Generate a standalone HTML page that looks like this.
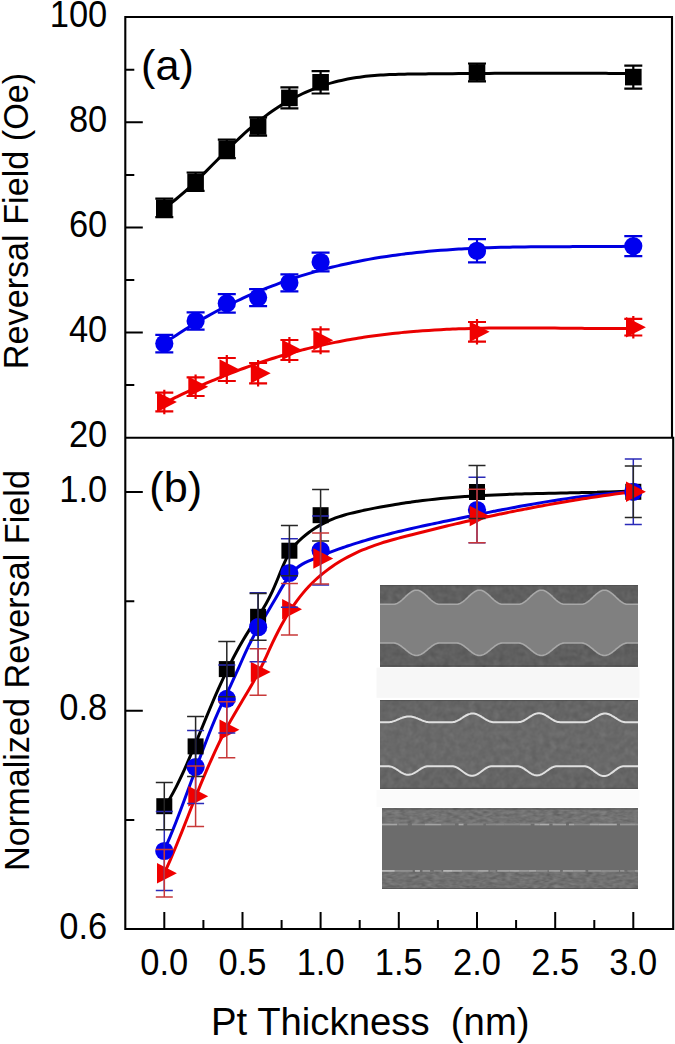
<!DOCTYPE html>
<html><head><meta charset="utf-8"><style>
html,body{margin:0;padding:0;background:#fff;}
svg{display:block;}
text{font-family:"Liberation Sans", sans-serif;font-size:34.5px;fill:#000;}
</style></head><body>
<svg width="675" height="1044" viewBox="0 0 675 1044">
<defs><filter id="n1" x="0" y="0" width="1" height="1" color-interpolation-filters="sRGB"><feTurbulence type="fractalNoise" baseFrequency="0.16" numOctaves="2" seed="3"/><feColorMatrix type="matrix" values="0.0545 0.0545 0.0545 0 0.2908  0.0545 0.0545 0.0545 0 0.2908  0.0545 0.0545 0.0545 0 0.2908  0 0 0 0 1"/></filter><filter id="n2" x="0" y="0" width="1" height="1" color-interpolation-filters="sRGB"><feTurbulence type="fractalNoise" baseFrequency="0.16" numOctaves="2" seed="7"/><feColorMatrix type="matrix" values="0.0545 0.0545 0.0545 0 0.3144  0.0545 0.0545 0.0545 0 0.3144  0.0545 0.0545 0.0545 0 0.3144  0 0 0 0 1"/></filter><filter id="n3" x="0" y="0" width="1" height="1" color-interpolation-filters="sRGB"><feTurbulence type="fractalNoise" baseFrequency="0.15 0.35" numOctaves="2" seed="11"/><feColorMatrix type="matrix" values="0.0980 0.0980 0.0980 0 0.3000  0.0980 0.0980 0.0980 0 0.3000  0.0980 0.0980 0.0980 0 0.3000  0 0 0 0 1"/></filter><filter id="n4" x="0" y="0" width="1" height="1" color-interpolation-filters="sRGB"><feTurbulence type="fractalNoise" baseFrequency="0.15 0.35" numOctaves="2" seed="13"/><feColorMatrix type="matrix" values="0.0980 0.0980 0.0980 0 0.2922  0.0980 0.0980 0.0980 0 0.2922  0.0980 0.0980 0.0980 0 0.2922  0 0 0 0 1"/></filter></defs>
<rect x="376.5" y="667.6" width="263" height="30.2" fill="#f7f7f7"/>
<rect x="376.5" y="790.2" width="263" height="16.8" fill="#fbfbfb"/>
<rect x="380" y="585" width="258" height="81.2" fill="#5e5e5e"/>
<rect x="380" y="585" width="258" height="81.2" filter="url(#n1)"/>
<path d="M380,604.2 L381,604.2 L382,604.2 L383,604.2 L384,604.2 L385,604.2 L386,604.2 L387,604.2 L388,604.2 L389,604.2 L390,604.2 L391,604.2 L392,604.2 L393,604.2 L394,604.2 L395,604.1 L396,603.8 L397,603.4 L398,602.9 L399,602.3 L400,601.6 L401,600.8 L402,600 L403,599.1 L404,598.2 L405,597.2 L406,596.2 L407,595.3 L408,594.4 L409,593.6 L410,592.8 L411,592.1 L412,591.5 L413,591 L414,590.6 L415,590.3 L416,590.2 L417,590.2 L418,590.3 L419,590.6 L420,591 L421,591.5 L422,592.1 L423,592.8 L424,593.6 L425,594.4 L426,595.3 L427,596.2 L428,597.2 L429,598.2 L430,599.1 L431,600 L432,600.8 L433,601.6 L434,602.3 L435,602.9 L436,603.4 L437,603.8 L438,604.1 L439,604.2 L440,604.2 L441,604.2 L442,604.2 L443,604.2 L444,604.2 L445,604.2 L446,604.2 L447,604.2 L448,604.2 L449,604.2 L450,604.2 L451,604.2 L452,604.2 L453,604.2 L454,604.2 L455,604.2 L456,604.2 L457,604.2 L458,604.1 L459,603.8 L460,603.4 L461,602.9 L462,602.3 L463,601.6 L464,600.8 L465,600 L466,599.1 L467,598.2 L468,597.2 L469,596.2 L470,595.3 L471,594.4 L472,593.6 L473,592.8 L474,592.1 L475,591.5 L476,591 L477,590.6 L478,590.3 L479,590.2 L480,590.2 L481,590.3 L482,590.6 L483,591 L484,591.5 L485,592.1 L486,592.8 L487,593.6 L488,594.4 L489,595.3 L490,596.2 L491,597.2 L492,598.2 L493,599.1 L494,600 L495,600.8 L496,601.6 L497,602.3 L498,602.9 L499,603.4 L500,603.8 L501,604.1 L502,604.2 L503,604.2 L504,604.2 L505,604.2 L506,604.2 L507,604.2 L508,604.2 L509,604.2 L510,604.2 L511,604.2 L512,604.2 L513,604.2 L514,604.2 L515,604.2 L516,604.2 L517,604.2 L518,604.2 L519,604.2 L520,604.1 L521,603.8 L522,603.4 L523,602.9 L524,602.3 L525,601.6 L526,600.8 L527,600 L528,599.1 L529,598.2 L530,597.2 L531,596.2 L532,595.3 L533,594.4 L534,593.6 L535,592.8 L536,592.1 L537,591.5 L538,591 L539,590.6 L540,590.3 L541,590.2 L542,590.2 L543,590.3 L544,590.6 L545,591 L546,591.5 L547,592.1 L548,592.8 L549,593.6 L550,594.4 L551,595.3 L552,596.2 L553,597.2 L554,598.2 L555,599.1 L556,600 L557,600.8 L558,601.6 L559,602.3 L560,602.9 L561,603.4 L562,603.8 L563,604.1 L564,604.2 L565,604.2 L566,604.2 L567,604.2 L568,604.2 L569,604.2 L570,604.2 L571,604.2 L572,604.2 L573,604.2 L574,604.2 L575,604.2 L576,604.2 L577,604.2 L578,604.2 L579,604.2 L580,604.2 L581,604.2 L582,604.2 L583,604.1 L584,603.8 L585,603.4 L586,602.9 L587,602.3 L588,601.6 L589,600.8 L590,600 L591,599.1 L592,598.2 L593,597.2 L594,596.2 L595,595.3 L596,594.4 L597,593.6 L598,592.8 L599,592.1 L600,591.5 L601,591 L602,590.6 L603,590.3 L604,590.2 L605,590.2 L606,590.3 L607,590.6 L608,591 L609,591.5 L610,592.1 L611,592.8 L612,593.6 L613,594.4 L614,595.3 L615,596.2 L616,597.2 L617,598.2 L618,599.1 L619,600 L620,600.8 L621,601.6 L622,602.3 L623,602.9 L624,603.4 L625,603.8 L626,604.1 L627,604.2 L628,604.2 L629,604.2 L630,604.2 L631,604.2 L632,604.2 L633,604.2 L634,604.2 L635,604.2 L636,604.2 L637,604.2 L638,604.2 L638,643 L637,643 L636,643 L635,643 L634,643 L633,643 L632,643 L631,643 L630,643 L629,643 L628,643 L627,643 L626,643.1 L625,643.4 L624,643.7 L623,644.1 L622,644.7 L621,645.3 L620,646 L619,646.8 L618,647.6 L617,648.4 L616,649.2 L615,650.1 L614,650.9 L613,651.7 L612,652.5 L611,653.2 L610,653.8 L609,654.4 L608,654.8 L607,655.1 L606,655.4 L605,655.5 L604,655.5 L603,655.4 L602,655.1 L601,654.8 L600,654.4 L599,653.8 L598,653.2 L597,652.5 L596,651.7 L595,650.9 L594,650.1 L593,649.2 L592,648.4 L591,647.6 L590,646.8 L589,646 L588,645.3 L587,644.7 L586,644.1 L585,643.7 L584,643.4 L583,643.1 L582,643 L581,643 L580,643 L579,643 L578,643 L577,643 L576,643 L575,643 L574,643 L573,643 L572,643 L571,643 L570,643 L569,643 L568,643 L567,643 L566,643 L565,643 L564,643 L563,643.1 L562,643.4 L561,643.7 L560,644.1 L559,644.7 L558,645.3 L557,646 L556,646.8 L555,647.6 L554,648.4 L553,649.2 L552,650.1 L551,650.9 L550,651.7 L549,652.5 L548,653.2 L547,653.8 L546,654.4 L545,654.8 L544,655.1 L543,655.4 L542,655.5 L541,655.5 L540,655.4 L539,655.1 L538,654.8 L537,654.4 L536,653.8 L535,653.2 L534,652.5 L533,651.7 L532,650.9 L531,650.1 L530,649.2 L529,648.4 L528,647.6 L527,646.8 L526,646 L525,645.3 L524,644.7 L523,644.1 L522,643.7 L521,643.4 L520,643.1 L519,643 L518,643 L517,643 L516,643 L515,643 L514,643 L513,643 L512,643 L511,643 L510,643 L509,643 L508,643 L507,643 L506,643 L505,643 L504,643 L503,643 L502,643 L501,643.1 L500,643.4 L499,643.7 L498,644.1 L497,644.7 L496,645.3 L495,646 L494,646.8 L493,647.6 L492,648.4 L491,649.2 L490,650.1 L489,650.9 L488,651.7 L487,652.5 L486,653.2 L485,653.8 L484,654.4 L483,654.8 L482,655.1 L481,655.4 L480,655.5 L479,655.5 L478,655.4 L477,655.1 L476,654.8 L475,654.4 L474,653.8 L473,653.2 L472,652.5 L471,651.7 L470,650.9 L469,650.1 L468,649.2 L467,648.4 L466,647.6 L465,646.8 L464,646 L463,645.3 L462,644.7 L461,644.1 L460,643.7 L459,643.4 L458,643.1 L457,643 L456,643 L455,643 L454,643 L453,643 L452,643 L451,643 L450,643 L449,643 L448,643 L447,643 L446,643 L445,643 L444,643 L443,643 L442,643 L441,643 L440,643 L439,643 L438,643.1 L437,643.4 L436,643.7 L435,644.1 L434,644.7 L433,645.3 L432,646 L431,646.8 L430,647.6 L429,648.4 L428,649.2 L427,650.1 L426,650.9 L425,651.7 L424,652.5 L423,653.2 L422,653.8 L421,654.4 L420,654.8 L419,655.1 L418,655.4 L417,655.5 L416,655.5 L415,655.4 L414,655.1 L413,654.8 L412,654.4 L411,653.8 L410,653.2 L409,652.5 L408,651.7 L407,650.9 L406,650.1 L405,649.2 L404,648.4 L403,647.6 L402,646.8 L401,646 L400,645.3 L399,644.7 L398,644.1 L397,643.7 L396,643.4 L395,643.1 L394,643 L393,643 L392,643 L391,643 L390,643 L389,643 L388,643 L387,643 L386,643 L385,643 L384,643 L383,643 L382,643 L381,643 L380,643 Z" fill="#808080"/>
<path d="M380,604.2 L381,604.2 L382,604.2 L383,604.2 L384,604.2 L385,604.2 L386,604.2 L387,604.2 L388,604.2 L389,604.2 L390,604.2 L391,604.2 L392,604.2 L393,604.2 L394,604.2 L395,604.1 L396,603.8 L397,603.4 L398,602.9 L399,602.3 L400,601.6 L401,600.8 L402,600 L403,599.1 L404,598.2 L405,597.2 L406,596.2 L407,595.3 L408,594.4 L409,593.6 L410,592.8 L411,592.1 L412,591.5 L413,591 L414,590.6 L415,590.3 L416,590.2 L417,590.2 L418,590.3 L419,590.6 L420,591 L421,591.5 L422,592.1 L423,592.8 L424,593.6 L425,594.4 L426,595.3 L427,596.2 L428,597.2 L429,598.2 L430,599.1 L431,600 L432,600.8 L433,601.6 L434,602.3 L435,602.9 L436,603.4 L437,603.8 L438,604.1 L439,604.2 L440,604.2 L441,604.2 L442,604.2 L443,604.2 L444,604.2 L445,604.2 L446,604.2 L447,604.2 L448,604.2 L449,604.2 L450,604.2 L451,604.2 L452,604.2 L453,604.2 L454,604.2 L455,604.2 L456,604.2 L457,604.2 L458,604.1 L459,603.8 L460,603.4 L461,602.9 L462,602.3 L463,601.6 L464,600.8 L465,600 L466,599.1 L467,598.2 L468,597.2 L469,596.2 L470,595.3 L471,594.4 L472,593.6 L473,592.8 L474,592.1 L475,591.5 L476,591 L477,590.6 L478,590.3 L479,590.2 L480,590.2 L481,590.3 L482,590.6 L483,591 L484,591.5 L485,592.1 L486,592.8 L487,593.6 L488,594.4 L489,595.3 L490,596.2 L491,597.2 L492,598.2 L493,599.1 L494,600 L495,600.8 L496,601.6 L497,602.3 L498,602.9 L499,603.4 L500,603.8 L501,604.1 L502,604.2 L503,604.2 L504,604.2 L505,604.2 L506,604.2 L507,604.2 L508,604.2 L509,604.2 L510,604.2 L511,604.2 L512,604.2 L513,604.2 L514,604.2 L515,604.2 L516,604.2 L517,604.2 L518,604.2 L519,604.2 L520,604.1 L521,603.8 L522,603.4 L523,602.9 L524,602.3 L525,601.6 L526,600.8 L527,600 L528,599.1 L529,598.2 L530,597.2 L531,596.2 L532,595.3 L533,594.4 L534,593.6 L535,592.8 L536,592.1 L537,591.5 L538,591 L539,590.6 L540,590.3 L541,590.2 L542,590.2 L543,590.3 L544,590.6 L545,591 L546,591.5 L547,592.1 L548,592.8 L549,593.6 L550,594.4 L551,595.3 L552,596.2 L553,597.2 L554,598.2 L555,599.1 L556,600 L557,600.8 L558,601.6 L559,602.3 L560,602.9 L561,603.4 L562,603.8 L563,604.1 L564,604.2 L565,604.2 L566,604.2 L567,604.2 L568,604.2 L569,604.2 L570,604.2 L571,604.2 L572,604.2 L573,604.2 L574,604.2 L575,604.2 L576,604.2 L577,604.2 L578,604.2 L579,604.2 L580,604.2 L581,604.2 L582,604.2 L583,604.1 L584,603.8 L585,603.4 L586,602.9 L587,602.3 L588,601.6 L589,600.8 L590,600 L591,599.1 L592,598.2 L593,597.2 L594,596.2 L595,595.3 L596,594.4 L597,593.6 L598,592.8 L599,592.1 L600,591.5 L601,591 L602,590.6 L603,590.3 L604,590.2 L605,590.2 L606,590.3 L607,590.6 L608,591 L609,591.5 L610,592.1 L611,592.8 L612,593.6 L613,594.4 L614,595.3 L615,596.2 L616,597.2 L617,598.2 L618,599.1 L619,600 L620,600.8 L621,601.6 L622,602.3 L623,602.9 L624,603.4 L625,603.8 L626,604.1 L627,604.2 L628,604.2 L629,604.2 L630,604.2 L631,604.2 L632,604.2 L633,604.2 L634,604.2 L635,604.2 L636,604.2 L637,604.2 L638,604.2" stroke="#a8a8a8" stroke-width="1.6" fill="none"/>
<path d="M380,643 L381,643 L382,643 L383,643 L384,643 L385,643 L386,643 L387,643 L388,643 L389,643 L390,643 L391,643 L392,643 L393,643 L394,643 L395,643.1 L396,643.4 L397,643.7 L398,644.1 L399,644.7 L400,645.3 L401,646 L402,646.8 L403,647.6 L404,648.4 L405,649.2 L406,650.1 L407,650.9 L408,651.7 L409,652.5 L410,653.2 L411,653.8 L412,654.4 L413,654.8 L414,655.1 L415,655.4 L416,655.5 L417,655.5 L418,655.4 L419,655.1 L420,654.8 L421,654.4 L422,653.8 L423,653.2 L424,652.5 L425,651.7 L426,650.9 L427,650.1 L428,649.2 L429,648.4 L430,647.6 L431,646.8 L432,646 L433,645.3 L434,644.7 L435,644.1 L436,643.7 L437,643.4 L438,643.1 L439,643 L440,643 L441,643 L442,643 L443,643 L444,643 L445,643 L446,643 L447,643 L448,643 L449,643 L450,643 L451,643 L452,643 L453,643 L454,643 L455,643 L456,643 L457,643 L458,643.1 L459,643.4 L460,643.7 L461,644.1 L462,644.7 L463,645.3 L464,646 L465,646.8 L466,647.6 L467,648.4 L468,649.2 L469,650.1 L470,650.9 L471,651.7 L472,652.5 L473,653.2 L474,653.8 L475,654.4 L476,654.8 L477,655.1 L478,655.4 L479,655.5 L480,655.5 L481,655.4 L482,655.1 L483,654.8 L484,654.4 L485,653.8 L486,653.2 L487,652.5 L488,651.7 L489,650.9 L490,650.1 L491,649.2 L492,648.4 L493,647.6 L494,646.8 L495,646 L496,645.3 L497,644.7 L498,644.1 L499,643.7 L500,643.4 L501,643.1 L502,643 L503,643 L504,643 L505,643 L506,643 L507,643 L508,643 L509,643 L510,643 L511,643 L512,643 L513,643 L514,643 L515,643 L516,643 L517,643 L518,643 L519,643 L520,643.1 L521,643.4 L522,643.7 L523,644.1 L524,644.7 L525,645.3 L526,646 L527,646.8 L528,647.6 L529,648.4 L530,649.2 L531,650.1 L532,650.9 L533,651.7 L534,652.5 L535,653.2 L536,653.8 L537,654.4 L538,654.8 L539,655.1 L540,655.4 L541,655.5 L542,655.5 L543,655.4 L544,655.1 L545,654.8 L546,654.4 L547,653.8 L548,653.2 L549,652.5 L550,651.7 L551,650.9 L552,650.1 L553,649.2 L554,648.4 L555,647.6 L556,646.8 L557,646 L558,645.3 L559,644.7 L560,644.1 L561,643.7 L562,643.4 L563,643.1 L564,643 L565,643 L566,643 L567,643 L568,643 L569,643 L570,643 L571,643 L572,643 L573,643 L574,643 L575,643 L576,643 L577,643 L578,643 L579,643 L580,643 L581,643 L582,643 L583,643.1 L584,643.4 L585,643.7 L586,644.1 L587,644.7 L588,645.3 L589,646 L590,646.8 L591,647.6 L592,648.4 L593,649.2 L594,650.1 L595,650.9 L596,651.7 L597,652.5 L598,653.2 L599,653.8 L600,654.4 L601,654.8 L602,655.1 L603,655.4 L604,655.5 L605,655.5 L606,655.4 L607,655.1 L608,654.8 L609,654.4 L610,653.8 L611,653.2 L612,652.5 L613,651.7 L614,650.9 L615,650.1 L616,649.2 L617,648.4 L618,647.6 L619,646.8 L620,646 L621,645.3 L622,644.7 L623,644.1 L624,643.7 L625,643.4 L626,643.1 L627,643 L628,643 L629,643 L630,643 L631,643 L632,643 L633,643 L634,643 L635,643 L636,643 L637,643 L638,643" stroke="#a8a8a8" stroke-width="1.6" fill="none"/>
<rect x="380" y="700" width="258" height="88.8" fill="#646464"/>
<rect x="380" y="700" width="258" height="88.8" filter="url(#n2)"/>
<path d="M380,722.2 L381,722.2 L382,722.2 L383,722.2 L384,722.2 L385,722.2 L386,722.2 L387,722.2 L388,722.2 L389,722.2 L390,722.1 L391,721.9 L392,721.7 L393,721.4 L394,721.1 L395,720.8 L396,720.4 L397,719.9 L398,719.5 L399,719.1 L400,718.7 L401,718.2 L402,717.9 L403,717.5 L404,717.2 L405,716.9 L406,716.7 L407,716.5 L408,716.4 L409,716.4 L410,716.4 L411,716.5 L412,716.7 L413,716.9 L414,717.2 L415,717.5 L416,717.9 L417,718.2 L418,718.7 L419,719.1 L420,719.5 L421,719.9 L422,720.4 L423,720.8 L424,721.1 L425,721.4 L426,721.7 L427,721.9 L428,722.1 L429,722.2 L430,722.2 L431,722.2 L432,722.2 L433,722.2 L434,722.2 L435,722.2 L436,722.2 L437,722.2 L438,722.2 L439,722.2 L440,722.2 L441,722.2 L442,722.2 L443,722.2 L444,722.2 L445,722.2 L446,722.2 L447,722.2 L448,722.2 L449,722.2 L450,722.2 L451,722.2 L452,722.2 L453,722.1 L454,721.9 L455,721.7 L456,721.3 L457,720.9 L458,720.4 L459,719.9 L460,719.3 L461,718.6 L462,718 L463,717.3 L464,716.7 L465,716.1 L466,715.5 L467,715 L468,714.5 L469,714.1 L470,713.9 L471,713.6 L472,713.5 L473,713.5 L474,713.6 L475,713.8 L476,714 L477,714.4 L478,714.8 L479,715.3 L480,715.8 L481,716.4 L482,717.1 L483,717.7 L484,718.4 L485,719 L486,719.6 L487,720.2 L488,720.7 L489,721.2 L490,721.6 L491,721.8 L492,722.1 L493,722.2 L494,722.2 L495,722.2 L496,722.2 L497,722.2 L498,722.2 L499,722.2 L500,722.2 L501,722.2 L502,722.2 L503,722.2 L504,722.2 L505,722.2 L506,722.2 L507,722.2 L508,722.2 L509,722.2 L510,722.2 L511,722.2 L512,722.2 L513,722.2 L514,722.2 L515,722.2 L516,722.2 L517,722.2 L518,722.2 L519,722.1 L520,722 L521,721.8 L522,721.4 L523,721 L524,720.5 L525,720 L526,719.3 L527,718.7 L528,718 L529,717.4 L530,716.7 L531,716.1 L532,715.5 L533,714.9 L534,714.4 L535,714 L536,713.6 L537,713.4 L538,713.3 L539,713.2 L540,713.3 L541,713.4 L542,713.6 L543,714 L544,714.4 L545,714.9 L546,715.5 L547,716.1 L548,716.7 L549,717.4 L550,718 L551,718.7 L552,719.3 L553,720 L554,720.5 L555,721 L556,721.4 L557,721.8 L558,722 L559,722.1 L560,722.2 L561,722.2 L562,722.2 L563,722.2 L564,722.2 L565,722.2 L566,722.2 L567,722.2 L568,722.2 L569,722.2 L570,722.2 L571,722.2 L572,722.2 L573,722.2 L574,722.2 L575,722.2 L576,722.2 L577,722.2 L578,722.2 L579,722.2 L580,722.2 L581,722.2 L582,722.2 L583,722.2 L584,722.2 L585,722.2 L586,722 L587,721.8 L588,721.5 L589,721.1 L590,720.6 L591,720.1 L592,719.5 L593,718.9 L594,718.2 L595,717.6 L596,716.9 L597,716.3 L598,715.8 L599,715.2 L600,714.7 L601,714.3 L602,714 L603,713.8 L604,713.6 L605,713.6 L606,713.6 L607,713.8 L608,714 L609,714.3 L610,714.7 L611,715.2 L612,715.8 L613,716.3 L614,716.9 L615,717.6 L616,718.2 L617,718.9 L618,719.5 L619,720.1 L620,720.6 L621,721.1 L622,721.5 L623,721.8 L624,722 L625,722.2 L626,722.2 L627,722.2 L628,722.2 L629,722.2 L630,722.2 L631,722.2 L632,722.2 L633,722.2 L634,722.2 L635,722.2 L636,722.2 L637,722.2 L638,722.2 L638,766.2 L637,766.2 L636,766.2 L635,766.2 L634,766.2 L633,766.2 L632,766.2 L631,766.2 L630,766.2 L629,766.2 L628,766.2 L627,766.2 L626,766.2 L625,766.2 L624,766.2 L623,766.3 L622,766.4 L621,766.7 L620,767.1 L619,767.6 L618,768.2 L617,768.9 L616,769.6 L615,770.3 L614,771.1 L613,771.9 L612,772.6 L611,773.3 L610,774 L609,774.6 L608,775.1 L607,775.5 L606,775.8 L605,775.9 L604,776 L603,775.9 L602,775.8 L601,775.5 L600,775.1 L599,774.6 L598,774 L597,773.3 L596,772.6 L595,771.9 L594,771.1 L593,770.3 L592,769.6 L591,768.9 L590,768.2 L589,767.6 L588,767.1 L587,766.7 L586,766.4 L585,766.3 L584,766.2 L583,766.2 L582,766.2 L581,766.2 L580,766.2 L579,766.2 L578,766.2 L577,766.2 L576,766.2 L575,766.2 L574,766.2 L573,766.2 L572,766.2 L571,766.2 L570,766.2 L569,766.2 L568,766.2 L567,766.2 L566,766.2 L565,766.2 L564,766.2 L563,766.2 L562,766.2 L561,766.2 L560,766.2 L559,766.2 L558,766.2 L557,766.2 L556,766.3 L555,766.4 L554,766.7 L553,767.1 L552,767.5 L551,768.1 L550,768.7 L549,769.4 L548,770.1 L547,770.8 L546,771.5 L545,772.2 L544,772.9 L543,773.5 L542,774.1 L541,774.5 L540,774.9 L539,775.2 L538,775.3 L537,775.4 L536,775.3 L535,775.2 L534,774.9 L533,774.5 L532,774.1 L531,773.5 L530,772.9 L529,772.2 L528,771.5 L527,770.8 L526,770.1 L525,769.4 L524,768.7 L523,768.1 L522,767.5 L521,767.1 L520,766.7 L519,766.4 L518,766.3 L517,766.2 L516,766.2 L515,766.2 L514,766.2 L513,766.2 L512,766.2 L511,766.2 L510,766.2 L509,766.2 L508,766.2 L507,766.2 L506,766.2 L505,766.2 L504,766.2 L503,766.2 L502,766.2 L501,766.2 L500,766.2 L499,766.2 L498,766.2 L497,766.2 L496,766.2 L495,766.2 L494,766.2 L493,766.2 L492,766.2 L491,766.3 L490,766.4 L489,766.7 L488,767.1 L487,767.6 L486,768.2 L485,768.8 L484,769.5 L483,770.2 L482,771 L481,771.8 L480,772.5 L479,773.2 L478,773.8 L477,774.4 L476,774.9 L475,775.3 L474,775.6 L473,775.7 L472,775.8 L471,775.7 L470,775.6 L469,775.3 L468,774.9 L467,774.4 L466,773.8 L465,773.2 L464,772.5 L463,771.8 L462,771 L461,770.2 L460,769.5 L459,768.8 L458,768.2 L457,767.6 L456,767.1 L455,766.7 L454,766.4 L453,766.3 L452,766.2 L451,766.2 L450,766.2 L449,766.2 L448,766.2 L447,766.2 L446,766.2 L445,766.2 L444,766.2 L443,766.2 L442,766.2 L441,766.2 L440,766.2 L439,766.2 L438,766.2 L437,766.2 L436,766.2 L435,766.2 L434,766.2 L433,766.2 L432,766.2 L431,766.2 L430,766.2 L429,766.2 L428,766.2 L427,766.3 L426,766.5 L425,766.8 L424,767.1 L423,767.6 L422,768.1 L421,768.7 L420,769.4 L419,770 L418,770.7 L417,771.4 L416,772 L415,772.6 L414,773.2 L413,773.7 L412,774.1 L411,774.4 L410,774.6 L409,774.8 L408,774.8 L407,774.7 L406,774.5 L405,774.2 L404,773.9 L403,773.4 L402,772.9 L401,772.3 L400,771.6 L399,771 L398,770.3 L397,769.6 L396,769 L395,768.4 L394,767.8 L393,767.3 L392,766.9 L391,766.6 L390,766.4 L389,766.2 L388,766.2 L387,766.2 L386,766.2 L385,766.2 L384,766.2 L383,766.2 L382,766.2 L381,766.2 L380,766.2 Z" fill="#ffffff" fill-opacity="0.03"/>
<path d="M380,722.2 L381,722.2 L382,722.2 L383,722.2 L384,722.2 L385,722.2 L386,722.2 L387,722.2 L388,722.2 L389,722.2 L390,722.1 L391,721.9 L392,721.7 L393,721.4 L394,721.1 L395,720.8 L396,720.4 L397,719.9 L398,719.5 L399,719.1 L400,718.7 L401,718.2 L402,717.9 L403,717.5 L404,717.2 L405,716.9 L406,716.7 L407,716.5 L408,716.4 L409,716.4 L410,716.4 L411,716.5 L412,716.7 L413,716.9 L414,717.2 L415,717.5 L416,717.9 L417,718.2 L418,718.7 L419,719.1 L420,719.5 L421,719.9 L422,720.4 L423,720.8 L424,721.1 L425,721.4 L426,721.7 L427,721.9 L428,722.1 L429,722.2 L430,722.2 L431,722.2 L432,722.2 L433,722.2 L434,722.2 L435,722.2 L436,722.2 L437,722.2 L438,722.2 L439,722.2 L440,722.2 L441,722.2 L442,722.2 L443,722.2 L444,722.2 L445,722.2 L446,722.2 L447,722.2 L448,722.2 L449,722.2 L450,722.2 L451,722.2 L452,722.2 L453,722.1 L454,721.9 L455,721.7 L456,721.3 L457,720.9 L458,720.4 L459,719.9 L460,719.3 L461,718.6 L462,718 L463,717.3 L464,716.7 L465,716.1 L466,715.5 L467,715 L468,714.5 L469,714.1 L470,713.9 L471,713.6 L472,713.5 L473,713.5 L474,713.6 L475,713.8 L476,714 L477,714.4 L478,714.8 L479,715.3 L480,715.8 L481,716.4 L482,717.1 L483,717.7 L484,718.4 L485,719 L486,719.6 L487,720.2 L488,720.7 L489,721.2 L490,721.6 L491,721.8 L492,722.1 L493,722.2 L494,722.2 L495,722.2 L496,722.2 L497,722.2 L498,722.2 L499,722.2 L500,722.2 L501,722.2 L502,722.2 L503,722.2 L504,722.2 L505,722.2 L506,722.2 L507,722.2 L508,722.2 L509,722.2 L510,722.2 L511,722.2 L512,722.2 L513,722.2 L514,722.2 L515,722.2 L516,722.2 L517,722.2 L518,722.2 L519,722.1 L520,722 L521,721.8 L522,721.4 L523,721 L524,720.5 L525,720 L526,719.3 L527,718.7 L528,718 L529,717.4 L530,716.7 L531,716.1 L532,715.5 L533,714.9 L534,714.4 L535,714 L536,713.6 L537,713.4 L538,713.3 L539,713.2 L540,713.3 L541,713.4 L542,713.6 L543,714 L544,714.4 L545,714.9 L546,715.5 L547,716.1 L548,716.7 L549,717.4 L550,718 L551,718.7 L552,719.3 L553,720 L554,720.5 L555,721 L556,721.4 L557,721.8 L558,722 L559,722.1 L560,722.2 L561,722.2 L562,722.2 L563,722.2 L564,722.2 L565,722.2 L566,722.2 L567,722.2 L568,722.2 L569,722.2 L570,722.2 L571,722.2 L572,722.2 L573,722.2 L574,722.2 L575,722.2 L576,722.2 L577,722.2 L578,722.2 L579,722.2 L580,722.2 L581,722.2 L582,722.2 L583,722.2 L584,722.2 L585,722.2 L586,722 L587,721.8 L588,721.5 L589,721.1 L590,720.6 L591,720.1 L592,719.5 L593,718.9 L594,718.2 L595,717.6 L596,716.9 L597,716.3 L598,715.8 L599,715.2 L600,714.7 L601,714.3 L602,714 L603,713.8 L604,713.6 L605,713.6 L606,713.6 L607,713.8 L608,714 L609,714.3 L610,714.7 L611,715.2 L612,715.8 L613,716.3 L614,716.9 L615,717.6 L616,718.2 L617,718.9 L618,719.5 L619,720.1 L620,720.6 L621,721.1 L622,721.5 L623,721.8 L624,722 L625,722.2 L626,722.2 L627,722.2 L628,722.2 L629,722.2 L630,722.2 L631,722.2 L632,722.2 L633,722.2 L634,722.2 L635,722.2 L636,722.2 L637,722.2 L638,722.2" stroke="#e0e0e0" stroke-width="2" fill="none"/>
<path d="M380,766.2 L381,766.2 L382,766.2 L383,766.2 L384,766.2 L385,766.2 L386,766.2 L387,766.2 L388,766.2 L389,766.2 L390,766.4 L391,766.6 L392,766.9 L393,767.3 L394,767.8 L395,768.4 L396,769 L397,769.6 L398,770.3 L399,771 L400,771.6 L401,772.3 L402,772.9 L403,773.4 L404,773.9 L405,774.2 L406,774.5 L407,774.7 L408,774.8 L409,774.8 L410,774.6 L411,774.4 L412,774.1 L413,773.7 L414,773.2 L415,772.6 L416,772 L417,771.4 L418,770.7 L419,770 L420,769.4 L421,768.7 L422,768.1 L423,767.6 L424,767.1 L425,766.8 L426,766.5 L427,766.3 L428,766.2 L429,766.2 L430,766.2 L431,766.2 L432,766.2 L433,766.2 L434,766.2 L435,766.2 L436,766.2 L437,766.2 L438,766.2 L439,766.2 L440,766.2 L441,766.2 L442,766.2 L443,766.2 L444,766.2 L445,766.2 L446,766.2 L447,766.2 L448,766.2 L449,766.2 L450,766.2 L451,766.2 L452,766.2 L453,766.3 L454,766.4 L455,766.7 L456,767.1 L457,767.6 L458,768.2 L459,768.8 L460,769.5 L461,770.2 L462,771 L463,771.8 L464,772.5 L465,773.2 L466,773.8 L467,774.4 L468,774.9 L469,775.3 L470,775.6 L471,775.7 L472,775.8 L473,775.7 L474,775.6 L475,775.3 L476,774.9 L477,774.4 L478,773.8 L479,773.2 L480,772.5 L481,771.8 L482,771 L483,770.2 L484,769.5 L485,768.8 L486,768.2 L487,767.6 L488,767.1 L489,766.7 L490,766.4 L491,766.3 L492,766.2 L493,766.2 L494,766.2 L495,766.2 L496,766.2 L497,766.2 L498,766.2 L499,766.2 L500,766.2 L501,766.2 L502,766.2 L503,766.2 L504,766.2 L505,766.2 L506,766.2 L507,766.2 L508,766.2 L509,766.2 L510,766.2 L511,766.2 L512,766.2 L513,766.2 L514,766.2 L515,766.2 L516,766.2 L517,766.2 L518,766.3 L519,766.4 L520,766.7 L521,767.1 L522,767.5 L523,768.1 L524,768.7 L525,769.4 L526,770.1 L527,770.8 L528,771.5 L529,772.2 L530,772.9 L531,773.5 L532,774.1 L533,774.5 L534,774.9 L535,775.2 L536,775.3 L537,775.4 L538,775.3 L539,775.2 L540,774.9 L541,774.5 L542,774.1 L543,773.5 L544,772.9 L545,772.2 L546,771.5 L547,770.8 L548,770.1 L549,769.4 L550,768.7 L551,768.1 L552,767.5 L553,767.1 L554,766.7 L555,766.4 L556,766.3 L557,766.2 L558,766.2 L559,766.2 L560,766.2 L561,766.2 L562,766.2 L563,766.2 L564,766.2 L565,766.2 L566,766.2 L567,766.2 L568,766.2 L569,766.2 L570,766.2 L571,766.2 L572,766.2 L573,766.2 L574,766.2 L575,766.2 L576,766.2 L577,766.2 L578,766.2 L579,766.2 L580,766.2 L581,766.2 L582,766.2 L583,766.2 L584,766.2 L585,766.3 L586,766.4 L587,766.7 L588,767.1 L589,767.6 L590,768.2 L591,768.9 L592,769.6 L593,770.3 L594,771.1 L595,771.9 L596,772.6 L597,773.3 L598,774 L599,774.6 L600,775.1 L601,775.5 L602,775.8 L603,775.9 L604,776 L605,775.9 L606,775.8 L607,775.5 L608,775.1 L609,774.6 L610,774 L611,773.3 L612,772.6 L613,771.9 L614,771.1 L615,770.3 L616,769.6 L617,768.9 L618,768.2 L619,767.6 L620,767.1 L621,766.7 L622,766.4 L623,766.3 L624,766.2 L625,766.2 L626,766.2 L627,766.2 L628,766.2 L629,766.2 L630,766.2 L631,766.2 L632,766.2 L633,766.2 L634,766.2 L635,766.2 L636,766.2 L637,766.2 L638,766.2" stroke="#e0e0e0" stroke-width="2" fill="none"/>
<rect x="382" y="808.5" width="256" height="15.5" filter="url(#n3)"/>
<rect x="382" y="824" width="256" height="47" fill="#6c6c6c"/>
<rect x="382" y="871.5" width="256" height="17.5" filter="url(#n4)"/>
<path d="M382.0,824.5 H397.3" stroke="rgb(188,188,188)" stroke-opacity="0.73" stroke-width="1.7"/>
<path d="M398.4,824.5 H407.8" stroke="rgb(164,164,164)" stroke-opacity="0.52" stroke-width="1.7"/>
<path d="M411.8,824.5 H424.9" stroke="rgb(154,154,154)" stroke-opacity="0.70" stroke-width="1.7"/>
<path d="M424.9,824.5 H441.5" stroke="rgb(190,190,190)" stroke-opacity="0.68" stroke-width="1.7"/>
<path d="M441.5,824.5 H455.0" stroke="rgb(143,143,143)" stroke-opacity="0.75" stroke-width="1.7"/>
<path d="M458.6,824.5 H463.5" stroke="rgb(180,180,180)" stroke-opacity="0.89" stroke-width="1.7"/>
<path d="M467.2,824.5 H483.4" stroke="rgb(141,141,141)" stroke-opacity="0.82" stroke-width="1.7"/>
<path d="M485.9,824.5 H496.0" stroke="rgb(152,152,152)" stroke-opacity="0.65" stroke-width="1.7"/>
<path d="M496.0,824.5 H504.5" stroke="rgb(148,148,148)" stroke-opacity="0.81" stroke-width="1.7"/>
<path d="M504.5,824.5 H519.6" stroke="rgb(154,154,154)" stroke-opacity="0.64" stroke-width="1.7"/>
<path d="M519.6,824.5 H530.7" stroke="rgb(170,170,170)" stroke-opacity="0.61" stroke-width="1.7"/>
<path d="M534.5,824.5 H539.7" stroke="rgb(190,190,190)" stroke-opacity="0.67" stroke-width="1.7"/>
<path d="M539.7,824.5 H549.3" stroke="rgb(196,196,196)" stroke-opacity="0.75" stroke-width="1.7"/>
<path d="M552.6,824.5 H566.0" stroke="rgb(181,181,181)" stroke-opacity="0.71" stroke-width="1.7"/>
<path d="M568.9,824.5 H574.4" stroke="rgb(181,181,181)" stroke-opacity="0.79" stroke-width="1.7"/>
<path d="M574.4,824.5 H589.6" stroke="rgb(151,151,151)" stroke-opacity="0.68" stroke-width="1.7"/>
<path d="M589.6,824.5 H598.9" stroke="rgb(182,182,182)" stroke-opacity="0.78" stroke-width="1.7"/>
<path d="M598.9,824.5 H616.8" stroke="rgb(183,183,183)" stroke-opacity="0.86" stroke-width="1.7"/>
<path d="M620.0,824.5 H635.8" stroke="rgb(164,164,164)" stroke-opacity="0.75" stroke-width="1.7"/>
<path d="M635.8,824.5 H638.0" stroke="rgb(159,159,159)" stroke-opacity="0.68" stroke-width="1.7"/>
<path d="M382.0,870.9 H394.8" stroke="rgb(196,196,196)" stroke-opacity="0.92" stroke-width="1.7"/>
<path d="M394.8,870.9 H412.7" stroke="rgb(151,151,151)" stroke-opacity="0.87" stroke-width="1.7"/>
<path d="M414.9,870.9 H419.9" stroke="rgb(191,191,191)" stroke-opacity="0.87" stroke-width="1.7"/>
<path d="M422.5,870.9 H430.1" stroke="rgb(169,169,169)" stroke-opacity="0.75" stroke-width="1.7"/>
<path d="M433.7,870.9 H441.6" stroke="rgb(166,166,166)" stroke-opacity="0.53" stroke-width="1.7"/>
<path d="M443.2,870.9 H452.0" stroke="rgb(195,195,195)" stroke-opacity="0.90" stroke-width="1.7"/>
<path d="M452.0,870.9 H462.4" stroke="rgb(180,180,180)" stroke-opacity="0.89" stroke-width="1.7"/>
<path d="M462.4,870.9 H477.5" stroke="rgb(163,163,163)" stroke-opacity="0.77" stroke-width="1.7"/>
<path d="M477.5,870.9 H488.5" stroke="rgb(181,181,181)" stroke-opacity="0.81" stroke-width="1.7"/>
<path d="M489.6,870.9 H495.7" stroke="rgb(152,152,152)" stroke-opacity="0.59" stroke-width="1.7"/>
<path d="M497.3,870.9 H509.8" stroke="rgb(193,193,193)" stroke-opacity="0.66" stroke-width="1.7"/>
<path d="M509.8,870.9 H519.6" stroke="rgb(180,180,180)" stroke-opacity="0.85" stroke-width="1.7"/>
<path d="M519.6,870.9 H528.8" stroke="rgb(182,182,182)" stroke-opacity="0.65" stroke-width="1.7"/>
<path d="M528.8,870.9 H536.1" stroke="rgb(192,192,192)" stroke-opacity="0.73" stroke-width="1.7"/>
<path d="M536.1,870.9 H547.6" stroke="rgb(158,158,158)" stroke-opacity="0.72" stroke-width="1.7"/>
<path d="M548.7,870.9 H560.1" stroke="rgb(168,168,168)" stroke-opacity="0.87" stroke-width="1.7"/>
<path d="M562.8,870.9 H573.7" stroke="rgb(175,175,175)" stroke-opacity="0.83" stroke-width="1.7"/>
<path d="M573.7,870.9 H585.5" stroke="rgb(169,169,169)" stroke-opacity="0.78" stroke-width="1.7"/>
<path d="M588.2,870.9 H601.6" stroke="rgb(151,151,151)" stroke-opacity="0.95" stroke-width="1.7"/>
<path d="M601.6,870.9 H619.0" stroke="rgb(157,157,157)" stroke-opacity="0.70" stroke-width="1.7"/>
<path d="M620.1,870.9 H624.4" stroke="rgb(154,154,154)" stroke-opacity="0.89" stroke-width="1.7"/>
<path d="M627.4,870.9 H634.9" stroke="rgb(143,143,143)" stroke-opacity="0.59" stroke-width="1.7"/>
<path d="M634.9,870.9 H638.0" stroke="rgb(172,172,172)" stroke-opacity="0.70" stroke-width="1.7"/>
<path d="M380,585.6 H638 M380,665.8 H638 M380,700.6 H638 M380,788.3 H638 M382,809 H638 M382,888.5 H638" stroke="#484848" stroke-width="1" stroke-opacity="0.6" fill="none"/>
<path d="M164.20,207.88 C166.20,206.56 168.21,205.14 170.21,203.66 C172.21,202.17 174.22,200.61 176.22,198.99 C178.22,197.36 180.23,195.67 182.23,193.93 C184.23,192.18 186.24,190.39 188.24,188.55 C190.24,186.71 192.25,184.82 194.25,182.90 C196.25,180.99 198.26,179.04 200.26,177.06 C202.26,175.09 204.27,173.09 206.27,171.08 C208.28,169.07 210.28,167.05 212.28,165.02 C214.29,163.00 216.29,160.96 218.29,158.94 C220.30,156.91 222.30,154.89 224.30,152.87 C226.31,150.86 228.31,148.87 230.31,146.89 C232.32,144.92 234.32,142.96 236.32,141.04 C238.33,139.12 240.33,137.23 242.33,135.37 C244.34,133.52 246.34,131.71 248.34,129.94 C250.35,128.17 252.35,126.46 254.35,124.79 C256.36,123.12 258.36,121.51 260.36,119.94 C262.37,118.37 264.37,116.85 266.37,115.37 C268.38,113.90 270.38,112.47 272.38,111.09 C274.39,109.71 276.39,108.38 278.39,107.09 C280.40,105.80 282.40,104.56 284.41,103.36 C286.41,102.16 288.41,101.00 290.42,99.89 C292.42,98.78 294.42,97.71 296.43,96.69 C298.43,95.66 300.43,94.68 302.44,93.74 C304.44,92.80 306.44,91.90 308.45,91.04 C310.45,90.18 312.45,89.36 314.46,88.58 C316.46,87.80 318.46,87.06 320.47,86.36 C322.47,85.66 324.47,85.00 326.48,84.38 C328.48,83.75 330.48,83.17 332.49,82.62 C334.49,82.07 336.49,81.55 338.50,81.07 C340.50,80.59 342.50,80.15 344.51,79.73 C346.51,79.32 348.51,78.93 350.52,78.58 C352.52,78.22 354.52,77.90 356.53,77.60 C358.53,77.30 360.54,77.02 362.54,76.77 C364.54,76.52 366.55,76.29 368.55,76.09 C370.55,75.88 372.56,75.70 374.56,75.53 C376.56,75.37 378.57,75.22 380.57,75.09 C382.57,74.96 384.58,74.85 386.58,74.75 C388.58,74.65 390.59,74.56 392.59,74.49 C394.59,74.41 396.60,74.35 398.60,74.30 C400.60,74.24 402.61,74.20 404.61,74.16 C406.61,74.12 408.62,74.09 410.62,74.06 C412.62,74.03 414.63,74.01 416.63,73.98 C418.63,73.96 420.64,73.94 422.64,73.92 C424.64,73.90 426.65,73.87 428.65,73.85 C430.65,73.83 432.66,73.81 434.66,73.79 C436.66,73.78 438.67,73.76 440.67,73.74 C442.68,73.72 444.68,73.70 446.68,73.69 C448.69,73.67 450.69,73.65 452.69,73.64 C454.70,73.62 456.70,73.60 458.70,73.59 C460.71,73.57 462.71,73.56 464.71,73.54 C466.72,73.53 468.72,73.52 470.72,73.50 C472.73,73.49 474.73,73.48 476.73,73.47 C478.74,73.45 480.74,73.44 482.74,73.43 C484.75,73.42 486.75,73.41 488.75,73.40 C490.76,73.39 492.76,73.38 494.76,73.37 C496.77,73.36 498.77,73.36 500.77,73.35 C502.78,73.34 504.78,73.33 506.78,73.33 C508.79,73.32 510.79,73.31 512.79,73.31 C514.80,73.30 516.80,73.29 518.81,73.29 C520.81,73.28 522.81,73.28 524.82,73.28 C526.82,73.27 528.82,73.27 530.83,73.27 C532.83,73.26 534.83,73.26 536.84,73.26 C538.84,73.26 540.84,73.25 542.85,73.25 C544.85,73.25 546.85,73.25 548.86,73.25 C550.86,73.25 552.86,73.25 554.87,73.25 C556.87,73.25 558.87,73.25 560.88,73.25 C562.88,73.26 564.88,73.26 566.89,73.26 C568.89,73.26 570.89,73.27 572.90,73.27 C574.90,73.27 576.90,73.28 578.91,73.28 C580.91,73.29 582.91,73.29 584.92,73.30 C586.92,73.30 588.92,73.31 590.93,73.31 C592.93,73.32 594.94,73.32 596.94,73.33 C598.94,73.34 600.95,73.35 602.95,73.35 C604.95,73.36 606.96,73.37 608.96,73.38 C610.96,73.39 612.97,73.40 614.97,73.40 C616.97,73.41 618.98,73.42 620.98,73.43 C622.98,73.44 624.99,73.46 626.99,73.47 C628.99,73.48 631.00,73.49 633.00,73.50" stroke="#000000" stroke-width="3" fill="none" stroke-linejoin="round"/>
<path d="M164.3,198.7 V217.1 M155.3,198.7 H173.3 M155.3,217.1 H173.3" stroke="#000000" stroke-width="2.2" fill="none"/>
<path d="M195.6,172.5 V190.9 M186.6,172.5 H204.6 M186.6,190.9 H204.6" stroke="#000000" stroke-width="2.2" fill="none"/>
<path d="M226.8,139.7 V158.1 M217.8,139.7 H235.8 M217.8,158.1 H235.8" stroke="#000000" stroke-width="2.2" fill="none"/>
<path d="M258.1,117.3 V135.7 M249.1,117.3 H267.1 M249.1,135.7 H267.1" stroke="#000000" stroke-width="2.2" fill="none"/>
<path d="M289.4,87.4 V108.4 M280.4,87.4 H298.4 M280.4,108.4 H298.4" stroke="#000000" stroke-width="2.2" fill="none"/>
<path d="M320.6,71.1 V93.5 M311.6,71.1 H329.6 M311.6,93.5 H329.6" stroke="#000000" stroke-width="2.2" fill="none"/>
<path d="M477,63.5 V81.3 M468,63.5 H486 M468,81.3 H486" stroke="#000000" stroke-width="2.2" fill="none"/>
<path d="M633.3,65.6 V88.6 M624.3,65.6 H642.3 M624.3,88.6 H642.3" stroke="#000000" stroke-width="2.2" fill="none"/>
<rect x="156" y="199.6" width="16.6" height="16.6" fill="#000"/>
<rect x="187.3" y="173.4" width="16.6" height="16.6" fill="#000"/>
<rect x="218.5" y="140.6" width="16.6" height="16.6" fill="#000"/>
<rect x="249.8" y="118.2" width="16.6" height="16.6" fill="#000"/>
<rect x="281.1" y="89.6" width="16.6" height="16.6" fill="#000"/>
<rect x="312.3" y="74" width="16.6" height="16.6" fill="#000"/>
<rect x="468.7" y="64.1" width="16.6" height="16.6" fill="#000"/>
<rect x="625" y="68.8" width="16.6" height="16.6" fill="#000"/>
<path d="M164.30,343.25 C166.30,341.86 168.31,340.49 170.31,339.13 C172.31,337.78 174.31,336.45 176.32,335.13 C178.32,333.82 180.32,332.52 182.33,331.25 C184.33,329.97 186.33,328.71 188.34,327.47 C190.34,326.24 192.34,325.02 194.34,323.82 C196.35,322.61 198.35,321.43 200.35,320.27 C202.36,319.10 204.36,317.96 206.36,316.83 C208.37,315.70 210.37,314.59 212.37,313.50 C214.37,312.41 216.38,311.34 218.38,310.28 C220.38,309.22 222.39,308.18 224.39,307.16 C226.39,306.14 228.40,305.14 230.40,304.15 C232.40,303.16 234.40,302.19 236.41,301.23 C238.41,300.28 240.41,299.34 242.42,298.42 C244.42,297.50 246.42,296.59 248.43,295.70 C250.43,294.82 252.43,293.94 254.43,293.09 C256.44,292.23 258.44,291.39 260.44,290.56 C262.45,289.73 264.45,288.92 266.45,288.13 C268.46,287.33 270.46,286.55 272.46,285.79 C274.46,285.02 276.47,284.27 278.47,283.54 C280.47,282.80 282.48,282.08 284.48,281.38 C286.48,280.67 288.49,279.98 290.49,279.30 C292.49,278.62 294.49,277.96 296.50,277.31 C298.50,276.66 300.50,276.02 302.51,275.40 C304.51,274.78 306.51,274.17 308.52,273.57 C310.52,272.97 312.52,272.39 314.52,271.82 C316.53,271.25 318.53,270.70 320.53,270.15 C322.54,269.61 324.54,269.08 326.54,268.56 C328.55,268.04 330.55,267.53 332.55,267.04 C334.55,266.54 336.56,266.06 338.56,265.59 C340.56,265.12 342.57,264.66 344.57,264.21 C346.57,263.77 348.58,263.33 350.58,262.91 C352.58,262.48 354.58,262.07 356.59,261.66 C358.59,261.26 360.59,260.87 362.60,260.49 C364.60,260.11 366.60,259.74 368.61,259.38 C370.61,259.02 372.61,258.67 374.61,258.33 C376.62,257.99 378.62,257.66 380.62,257.34 C382.63,257.02 384.63,256.71 386.63,256.40 C388.64,256.10 390.64,255.81 392.64,255.53 C394.64,255.25 396.65,254.97 398.65,254.71 C400.65,254.44 402.66,254.19 404.66,253.94 C406.66,253.69 408.66,253.45 410.67,253.22 C412.67,252.99 414.67,252.77 416.68,252.55 C418.68,252.34 420.68,252.13 422.69,251.93 C424.69,251.73 426.69,251.54 428.69,251.36 C430.70,251.17 432.70,251.00 434.70,250.83 C436.71,250.66 438.71,250.49 440.71,250.34 C442.72,250.18 444.72,250.03 446.72,249.89 C448.72,249.75 450.73,249.61 452.73,249.48 C454.73,249.35 456.74,249.22 458.74,249.11 C460.74,248.99 462.75,248.87 464.75,248.77 C466.75,248.66 468.75,248.56 470.76,248.46 C472.76,248.37 474.76,248.27 476.77,248.19 C478.77,248.10 480.77,248.02 482.78,247.94 C484.78,247.87 486.78,247.80 488.78,247.73 C490.79,247.66 492.79,247.60 494.79,247.54 C496.80,247.48 498.80,247.42 500.80,247.37 C502.81,247.32 504.81,247.27 506.81,247.23 C508.81,247.18 510.82,247.14 512.82,247.10 C514.82,247.07 516.83,247.03 518.83,247.00 C520.83,246.97 522.84,246.94 524.84,246.91 C526.84,246.89 528.84,246.86 530.85,246.84 C532.85,246.82 534.85,246.80 536.86,246.78 C538.86,246.77 540.86,246.75 542.87,246.74 C544.87,246.72 546.87,246.71 548.87,246.70 C550.88,246.69 552.88,246.68 554.88,246.67 C556.89,246.66 558.89,246.66 560.89,246.65 C562.90,246.64 564.90,246.64 566.90,246.63 C568.90,246.63 570.91,246.62 572.91,246.62 C574.91,246.61 576.92,246.61 578.92,246.60 C580.92,246.60 582.93,246.60 584.93,246.59 C586.93,246.58 588.93,246.58 590.94,246.57 C592.94,246.57 594.94,246.56 596.95,246.55 C598.95,246.54 600.95,246.54 602.96,246.52 C604.96,246.51 606.96,246.50 608.96,246.49 C610.97,246.48 612.97,246.46 614.97,246.44 C616.98,246.43 618.98,246.41 620.98,246.39 C622.99,246.37 624.99,246.34 626.99,246.32 C628.99,246.29 631.00,246.26 633.00,246.23" stroke="#0000e0" stroke-width="3" fill="none" stroke-linejoin="round"/>
<path d="M164.3,334.8 V352.4 M155.3,334.8 H173.3 M155.3,352.4 H173.3" stroke="#0000e0" stroke-width="2.2" fill="none"/>
<path d="M195.6,312.3 V329.7 M186.6,312.3 H204.6 M186.6,329.7 H204.6" stroke="#0000e0" stroke-width="2.2" fill="none"/>
<path d="M226.8,294.2 V312.6 M217.8,294.2 H235.8 M217.8,312.6 H235.8" stroke="#0000e0" stroke-width="2.2" fill="none"/>
<path d="M258.1,289.1 V306.1 M249.1,289.1 H267.1 M249.1,306.1 H267.1" stroke="#0000e0" stroke-width="2.2" fill="none"/>
<path d="M289.4,274.3 V291.3 M280.4,274.3 H298.4 M280.4,291.3 H298.4" stroke="#0000e0" stroke-width="2.2" fill="none"/>
<path d="M320.6,252.7 V271.3 M311.6,252.7 H329.6 M311.6,271.3 H329.6" stroke="#0000e0" stroke-width="2.2" fill="none"/>
<path d="M477,239.2 V262.4 M468,239.2 H486 M468,262.4 H486" stroke="#0000e0" stroke-width="2.2" fill="none"/>
<path d="M633.3,236.1 V256.1 M624.3,236.1 H642.3 M624.3,256.1 H642.3" stroke="#0000e0" stroke-width="2.2" fill="none"/>
<circle cx="164.3" cy="343.6" r="9.1" fill="#0000f0"/>
<circle cx="195.6" cy="321" r="9.1" fill="#0000f0"/>
<circle cx="226.8" cy="303.4" r="9.1" fill="#0000f0"/>
<circle cx="258.1" cy="297.6" r="9.1" fill="#0000f0"/>
<circle cx="289.4" cy="282.8" r="9.1" fill="#0000f0"/>
<circle cx="320.6" cy="262" r="9.1" fill="#0000f0"/>
<circle cx="477" cy="250.8" r="9.1" fill="#0000f0"/>
<circle cx="633.3" cy="246.1" r="9.1" fill="#0000f0"/>
<path d="M164.30,403.07 C166.30,402.05 168.31,401.04 170.31,400.04 C172.31,399.04 174.31,398.05 176.32,397.08 C178.32,396.10 180.32,395.13 182.33,394.18 C184.33,393.22 186.33,392.28 188.34,391.35 C190.34,390.41 192.34,389.49 194.34,388.58 C196.35,387.67 198.35,386.77 200.35,385.88 C202.36,384.99 204.36,384.11 206.36,383.24 C208.37,382.37 210.37,381.51 212.37,380.66 C214.37,379.82 216.38,378.98 218.38,378.16 C220.38,377.33 222.39,376.52 224.39,375.71 C226.39,374.91 228.40,374.12 230.40,373.34 C232.40,372.55 234.40,371.78 236.41,371.02 C238.41,370.26 240.41,369.51 242.42,368.78 C244.42,368.04 246.42,367.31 248.43,366.59 C250.43,365.88 252.43,365.17 254.43,364.48 C256.44,363.78 258.44,363.10 260.44,362.42 C262.45,361.75 264.45,361.09 266.45,360.44 C268.46,359.78 270.46,359.14 272.46,358.51 C274.46,357.88 276.47,357.26 278.47,356.66 C280.47,356.05 282.48,355.45 284.48,354.86 C286.48,354.28 288.49,353.70 290.49,353.14 C292.49,352.57 294.49,352.02 296.50,351.48 C298.50,350.93 300.50,350.40 302.51,349.88 C304.51,349.36 306.51,348.85 308.52,348.35 C310.52,347.85 312.52,347.36 314.52,346.88 C316.53,346.41 318.53,345.94 320.53,345.48 C322.54,345.03 324.54,344.58 326.54,344.15 C328.55,343.72 330.55,343.29 332.55,342.88 C334.55,342.47 336.56,342.07 338.56,341.68 C340.56,341.29 342.57,340.91 344.57,340.54 C346.57,340.17 348.58,339.81 350.58,339.46 C352.58,339.11 354.58,338.77 356.59,338.44 C358.59,338.11 360.59,337.79 362.60,337.48 C364.60,337.17 366.60,336.87 368.61,336.58 C370.61,336.29 372.61,336.01 374.61,335.74 C376.62,335.47 378.62,335.20 380.62,334.95 C382.63,334.69 384.63,334.45 386.63,334.21 C388.64,333.97 390.64,333.75 392.64,333.53 C394.64,333.30 396.65,333.09 398.65,332.89 C400.65,332.68 402.66,332.49 404.66,332.30 C406.66,332.11 408.66,331.93 410.67,331.75 C412.67,331.58 414.67,331.41 416.68,331.25 C418.68,331.09 420.68,330.94 422.69,330.80 C424.69,330.65 426.69,330.51 428.69,330.38 C430.70,330.25 432.70,330.12 434.70,330.00 C436.71,329.88 438.71,329.77 440.71,329.66 C442.72,329.55 444.72,329.45 446.72,329.36 C448.72,329.26 450.73,329.17 452.73,329.09 C454.73,329.00 456.74,328.92 458.74,328.85 C460.74,328.77 462.75,328.70 464.75,328.64 C466.75,328.58 468.75,328.52 470.76,328.46 C472.76,328.41 474.76,328.36 476.77,328.31 C478.77,328.26 480.77,328.22 482.78,328.19 C484.78,328.15 486.78,328.11 488.78,328.08 C490.79,328.05 492.79,328.03 494.79,328.01 C496.80,327.98 498.80,327.96 500.80,327.95 C502.81,327.93 504.81,327.92 506.81,327.91 C508.81,327.90 510.82,327.89 512.82,327.89 C514.82,327.88 516.83,327.88 518.83,327.88 C520.83,327.88 522.84,327.89 524.84,327.89 C526.84,327.90 528.84,327.90 530.85,327.91 C532.85,327.92 534.85,327.93 536.86,327.94 C538.86,327.95 540.86,327.97 542.87,327.98 C544.87,328.00 546.87,328.01 548.87,328.03 C550.88,328.05 552.88,328.07 554.88,328.08 C556.89,328.10 558.89,328.12 560.89,328.14 C562.90,328.16 564.90,328.18 566.90,328.20 C568.90,328.22 570.91,328.24 572.91,328.26 C574.91,328.28 576.92,328.30 578.92,328.32 C580.92,328.34 582.93,328.36 584.93,328.38 C586.93,328.40 588.93,328.41 590.94,328.43 C592.94,328.45 594.94,328.46 596.95,328.48 C598.95,328.49 600.95,328.51 602.96,328.52 C604.96,328.53 606.96,328.54 608.96,328.55 C610.97,328.55 612.97,328.56 614.97,328.56 C616.98,328.57 618.98,328.57 620.98,328.57 C622.99,328.57 624.99,328.57 626.99,328.56 C628.99,328.56 631.00,328.55 633.00,328.54" stroke="#ea0000" stroke-width="3" fill="none" stroke-linejoin="round"/>
<path d="M164.3,389.7 V414.3 M155.3,392.7 H173.3 M155.3,411.3 H173.3" stroke="#ea0000" stroke-width="2.2" fill="none"/>
<path d="M195.6,374.4 V399 M186.6,377.4 H204.6 M186.6,396 H204.6" stroke="#ea0000" stroke-width="2.2" fill="none"/>
<path d="M226.8,355 V384 M217.8,358 H235.8 M217.8,381 H235.8" stroke="#ea0000" stroke-width="2.2" fill="none"/>
<path d="M258.1,360 V386.4 M249.1,363 H267.1 M249.1,383.4 H267.1" stroke="#ea0000" stroke-width="2.2" fill="none"/>
<path d="M289.4,337 V363 M280.4,340 H298.4 M280.4,360 H298.4" stroke="#ea0000" stroke-width="2.2" fill="none"/>
<path d="M320.6,326.3 V354.3 M311.6,329.3 H329.6 M311.6,351.3 H329.6" stroke="#ea0000" stroke-width="2.2" fill="none"/>
<path d="M477,319 V344.6 M468,322 H486 M468,341.6 H486" stroke="#ea0000" stroke-width="2.2" fill="none"/>
<path d="M633.3,315.9 V338.5 M624.3,318.9 H642.3 M624.3,335.5 H642.3" stroke="#ea0000" stroke-width="2.2" fill="none"/>
<path d="M157,391.8 L176.9,402 L157,412.2 Z" fill="#f00000"/>
<path d="M188.3,376.5 L208.2,386.7 L188.3,396.9 Z" fill="#f00000"/>
<path d="M219.5,359.3 L239.4,369.5 L219.5,379.7 Z" fill="#f00000"/>
<path d="M250.8,363 L270.7,373.2 L250.8,383.4 Z" fill="#f00000"/>
<path d="M282.1,339.8 L302,350 L282.1,360.2 Z" fill="#f00000"/>
<path d="M313.3,330.1 L333.2,340.3 L313.3,350.5 Z" fill="#f00000"/>
<path d="M469.7,321.6 L489.6,331.8 L469.7,342 Z" fill="#f00000"/>
<path d="M626,317 L645.9,327.2 L626,337.4 Z" fill="#f00000"/>
<path d="M164.30,807.09 C166.30,804.30 168.31,801.16 170.31,797.74 C172.31,794.32 174.31,790.61 176.32,786.66 C178.32,782.72 180.32,778.55 182.33,774.20 C184.33,769.85 186.33,765.32 188.34,760.68 C190.34,756.03 192.34,751.26 194.34,746.43 C196.35,741.60 198.35,736.71 200.35,731.80 C202.36,726.90 204.36,721.99 206.36,717.13 C208.37,712.26 210.37,707.45 212.37,702.73 C214.37,698.02 216.38,693.42 218.38,688.94 C220.38,684.46 222.39,680.10 224.39,675.87 C226.39,671.64 228.40,667.53 230.40,663.55 C232.40,659.57 234.40,655.73 236.41,652.01 C238.41,648.29 240.41,644.71 242.42,641.27 C244.42,637.82 246.42,634.51 248.43,631.34 C250.43,628.17 252.43,625.17 254.43,622.17 C256.44,619.17 258.44,616.18 260.44,613.04 C262.45,609.90 264.45,606.60 266.45,603.00 C268.46,599.39 270.46,595.48 272.46,591.09 C274.46,586.70 276.47,581.85 278.47,576.97 C280.47,572.09 282.48,567.18 284.48,562.68 C286.48,558.18 288.49,554.09 290.49,550.94 C292.49,547.78 294.49,545.45 296.50,543.37 C298.50,541.29 300.50,539.41 302.51,537.65 C304.51,535.89 306.51,534.26 308.52,532.74 C310.52,531.23 312.52,529.82 314.52,528.51 C316.53,527.21 318.53,526.00 320.53,524.89 C322.54,523.77 324.54,522.74 326.54,521.79 C328.55,520.84 330.55,519.97 332.55,519.16 C334.55,518.36 336.56,517.62 338.56,516.93 C340.56,516.25 342.57,515.62 344.57,515.03 C346.57,514.44 348.58,513.90 350.58,513.39 C352.58,512.87 354.58,512.39 356.59,511.94 C358.59,511.48 360.59,511.04 362.60,510.61 C364.60,510.18 366.60,509.76 368.61,509.35 C370.61,508.94 372.61,508.54 374.61,508.15 C376.62,507.76 378.62,507.38 380.62,507.01 C382.63,506.64 384.63,506.28 386.63,505.93 C388.64,505.58 390.64,505.23 392.64,504.90 C394.64,504.57 396.65,504.24 398.65,503.93 C400.65,503.61 402.66,503.31 404.66,503.01 C406.66,502.71 408.66,502.42 410.67,502.15 C412.67,501.87 414.67,501.60 416.68,501.33 C418.68,501.07 420.68,500.82 422.69,500.57 C424.69,500.33 426.69,500.09 428.69,499.87 C430.70,499.64 432.70,499.42 434.70,499.21 C436.71,498.99 438.71,498.79 440.71,498.59 C442.72,498.40 444.72,498.21 446.72,498.03 C448.72,497.85 450.73,497.67 452.73,497.51 C454.73,497.34 456.74,497.18 458.74,497.03 C460.74,496.87 462.75,496.73 464.75,496.58 C466.75,496.44 468.75,496.31 470.76,496.18 C472.76,496.05 474.76,495.93 476.77,495.81 C478.77,495.69 480.77,495.58 482.78,495.47 C484.78,495.36 486.78,495.26 488.78,495.16 C490.79,495.06 492.79,494.97 494.79,494.88 C496.80,494.79 498.80,494.71 500.80,494.63 C502.81,494.55 504.81,494.47 506.81,494.40 C508.81,494.32 510.82,494.25 512.82,494.19 C514.82,494.12 516.83,494.06 518.83,494.00 C520.83,493.94 522.84,493.88 524.84,493.82 C526.84,493.77 528.84,493.72 530.85,493.67 C532.85,493.62 534.85,493.57 536.86,493.52 C538.86,493.47 540.86,493.43 542.87,493.38 C544.87,493.34 546.87,493.30 548.87,493.26 C550.88,493.21 552.88,493.17 554.88,493.13 C556.89,493.09 558.89,493.05 560.89,493.02 C562.90,492.98 564.90,492.94 566.90,492.90 C568.90,492.86 570.91,492.82 572.91,492.78 C574.91,492.74 576.92,492.70 578.92,492.66 C580.92,492.62 582.93,492.58 584.93,492.54 C586.93,492.49 588.93,492.45 590.94,492.40 C592.94,492.36 594.94,492.31 596.95,492.26 C598.95,492.21 600.95,492.16 602.96,492.10 C604.96,492.05 606.96,491.99 608.96,491.94 C610.97,491.88 612.97,491.82 614.97,491.75 C616.98,491.69 618.98,491.62 620.98,491.55 C622.99,491.48 624.99,491.40 626.99,491.32 C628.99,491.25 631.00,491.16 633.00,491.08" stroke="#000000" stroke-width="3" fill="none" stroke-linejoin="round"/>
<path d="M164.10,850.25 C166.10,845.92 168.11,841.33 170.11,836.56 C172.12,831.78 174.12,826.82 176.12,821.71 C178.13,816.61 180.13,811.36 182.13,806.03 C184.14,800.70 186.14,795.28 188.15,789.82 C190.15,784.37 192.15,778.88 194.16,773.41 C196.16,767.93 198.17,762.48 200.17,757.09 C202.17,751.70 204.18,746.38 206.18,741.19 C208.18,735.99 210.19,730.91 212.19,726.01 C214.20,721.11 216.20,716.38 218.20,711.87 C220.21,707.37 222.21,703.11 224.22,698.92 C226.22,694.73 228.22,690.60 230.23,686.36 C232.23,682.12 234.23,677.71 236.24,673.23 C238.24,668.75 240.25,664.20 242.25,659.74 C244.25,655.28 246.26,650.89 248.26,646.72 C250.27,642.56 252.27,638.65 254.27,634.97 C256.28,631.29 258.28,627.80 260.28,624.36 C262.29,620.92 264.29,617.55 266.30,614.18 C268.30,610.82 270.30,607.47 272.31,604.07 C274.31,600.67 276.32,597.21 278.32,593.69 C280.32,590.17 282.33,586.64 284.33,583.36 C286.33,580.08 288.34,577.07 290.34,574.57 C292.35,572.07 294.35,570.05 296.35,568.36 C298.36,566.68 300.36,565.32 302.37,564.17 C304.37,563.01 306.37,562.05 308.38,561.16 C310.38,560.26 312.38,559.40 314.39,558.54 C316.39,557.69 318.40,556.86 320.40,556.04 C322.40,555.23 324.41,554.43 326.41,553.65 C328.42,552.87 330.42,552.10 332.42,551.36 C334.43,550.61 336.43,549.88 338.43,549.16 C340.44,548.45 342.44,547.75 344.45,547.07 C346.45,546.38 348.45,545.71 350.46,545.05 C352.46,544.40 354.47,543.76 356.47,543.13 C358.47,542.50 360.48,541.88 362.48,541.28 C364.48,540.68 366.49,540.08 368.49,539.50 C370.50,538.92 372.50,538.36 374.50,537.80 C376.51,537.24 378.51,536.70 380.52,536.16 C382.52,535.62 384.52,535.09 386.53,534.58 C388.53,534.06 390.53,533.55 392.54,533.05 C394.54,532.55 396.55,532.06 398.55,531.57 C400.55,531.09 402.56,530.61 404.56,530.14 C406.57,529.67 408.57,529.21 410.57,528.75 C412.58,528.29 414.58,527.84 416.58,527.39 C418.59,526.94 420.59,526.50 422.60,526.06 C424.60,525.63 426.60,525.19 428.61,524.76 C430.61,524.33 432.62,523.91 434.62,523.48 C436.62,523.06 438.63,522.64 440.63,522.22 C442.63,521.80 444.64,521.38 446.64,520.96 C448.65,520.55 450.65,520.13 452.65,519.72 C454.66,519.30 456.66,518.89 458.67,518.47 C460.67,518.06 462.67,517.65 464.68,517.23 C466.68,516.82 468.68,516.41 470.69,516.00 C472.69,515.59 474.70,515.18 476.70,514.78 C478.70,514.37 480.71,513.97 482.71,513.56 C484.72,513.16 486.72,512.76 488.72,512.36 C490.73,511.96 492.73,511.57 494.73,511.17 C496.74,510.78 498.74,510.39 500.75,510.00 C502.75,509.61 504.75,509.23 506.76,508.85 C508.76,508.46 510.77,508.08 512.77,507.71 C514.77,507.33 516.78,506.96 518.78,506.59 C520.78,506.22 522.79,505.86 524.79,505.50 C526.80,505.14 528.80,504.78 530.80,504.43 C532.81,504.08 534.81,503.73 536.82,503.39 C538.82,503.04 540.82,502.71 542.83,502.37 C544.83,502.04 546.83,501.71 548.84,501.39 C550.84,501.06 552.85,500.75 554.85,500.43 C556.85,500.12 558.86,499.81 560.86,499.51 C562.87,499.21 564.87,498.92 566.87,498.63 C568.88,498.34 570.88,498.05 572.88,497.78 C574.89,497.50 576.89,497.23 578.90,496.97 C580.90,496.70 582.90,496.45 584.91,496.20 C586.91,495.95 588.92,495.70 590.92,495.47 C592.92,495.23 594.93,495.00 596.93,494.78 C598.93,494.56 600.94,494.35 602.94,494.14 C604.95,493.94 606.95,493.74 608.95,493.55 C610.96,493.36 612.96,493.18 614.97,493.01 C616.97,492.84 618.97,492.67 620.98,492.52 C622.98,492.36 624.98,492.22 626.99,492.08 C628.99,491.94 631.00,491.81 633.00,491.70" stroke="#0000e0" stroke-width="3" fill="none" stroke-linejoin="round"/>
<path d="M164.30,873.07 C166.30,868.85 168.31,864.41 170.31,859.80 C172.31,855.19 174.31,850.41 176.32,845.52 C178.32,840.63 180.32,835.62 182.33,830.57 C184.33,825.51 186.33,820.40 188.34,815.30 C190.34,810.19 192.34,805.09 194.34,800.05 C196.35,795.01 198.35,790.04 200.35,785.17 C202.36,780.30 204.36,775.53 206.36,770.88 C208.37,766.22 210.37,761.68 212.37,757.26 C214.37,752.84 216.38,748.54 218.38,744.38 C220.38,740.21 222.39,736.19 224.39,732.30 C226.39,728.42 228.40,724.70 230.40,721.11 C232.40,717.52 234.40,714.05 236.41,710.65 C238.41,707.25 240.41,703.91 242.42,700.57 C244.42,697.22 246.42,693.87 248.43,690.45 C250.43,687.03 252.43,683.54 254.43,679.91 C256.44,676.28 258.44,672.52 260.44,668.55 C262.45,664.58 264.45,660.37 266.45,656.03 C268.46,651.68 270.46,647.24 272.46,642.96 C274.46,638.68 276.47,634.59 278.47,630.73 C280.47,626.87 282.48,623.23 284.48,619.79 C286.48,616.34 288.49,613.09 290.49,610.02 C292.49,606.95 294.49,604.07 296.50,601.34 C298.50,598.62 300.50,596.05 302.51,593.64 C304.51,591.22 306.51,588.95 308.52,586.81 C310.52,584.67 312.52,582.66 314.52,580.77 C316.53,578.87 318.53,577.08 320.53,575.39 C322.54,573.70 324.54,572.11 326.54,570.59 C328.55,569.07 330.55,567.63 332.55,566.26 C334.55,564.88 336.56,563.58 338.56,562.33 C340.56,561.08 342.57,559.90 344.57,558.77 C346.57,557.64 348.58,556.56 350.58,555.54 C352.58,554.52 354.58,553.55 356.59,552.62 C358.59,551.70 360.59,550.82 362.60,549.98 C364.60,549.14 366.60,548.34 368.61,547.58 C370.61,546.81 372.61,546.09 374.61,545.39 C376.62,544.69 378.62,544.02 380.62,543.38 C382.63,542.74 384.63,542.12 386.63,541.53 C388.64,540.93 390.64,540.35 392.64,539.79 C394.64,539.23 396.65,538.68 398.65,538.15 C400.65,537.61 402.66,537.08 404.66,536.56 C406.66,536.04 408.66,535.52 410.67,535.00 C412.67,534.48 414.67,533.97 416.68,533.46 C418.68,532.95 420.68,532.44 422.69,531.93 C424.69,531.43 426.69,530.93 428.69,530.43 C430.70,529.93 432.70,529.43 434.70,528.94 C436.71,528.45 438.71,527.96 440.71,527.47 C442.72,526.98 444.72,526.50 446.72,526.02 C448.72,525.54 450.73,525.06 452.73,524.59 C454.73,524.12 456.74,523.65 458.74,523.18 C460.74,522.72 462.75,522.25 464.75,521.79 C466.75,521.33 468.75,520.88 470.76,520.43 C472.76,519.98 474.76,519.53 476.77,519.08 C478.77,518.64 480.77,518.20 482.78,517.76 C484.78,517.32 486.78,516.89 488.78,516.46 C490.79,516.03 492.79,515.60 494.79,515.18 C496.80,514.75 498.80,514.34 500.80,513.92 C502.81,513.50 504.81,513.09 506.81,512.68 C508.81,512.27 510.82,511.87 512.82,511.47 C514.82,511.07 516.83,510.67 518.83,510.27 C520.83,509.88 522.84,509.49 524.84,509.10 C526.84,508.71 528.84,508.33 530.85,507.95 C532.85,507.57 534.85,507.19 536.86,506.82 C538.86,506.45 540.86,506.08 542.87,505.71 C544.87,505.35 546.87,504.98 548.87,504.63 C550.88,504.27 552.88,503.91 554.88,503.56 C556.89,503.21 558.89,502.86 560.89,502.52 C562.90,502.17 564.90,501.83 566.90,501.49 C568.90,501.15 570.91,500.82 572.91,500.49 C574.91,500.16 576.92,499.83 578.92,499.51 C580.92,499.18 582.93,498.86 584.93,498.55 C586.93,498.23 588.93,497.92 590.94,497.61 C592.94,497.30 594.94,496.99 596.95,496.69 C598.95,496.39 600.95,496.09 602.96,495.79 C604.96,495.50 606.96,495.20 608.96,494.92 C610.97,494.63 612.97,494.34 614.97,494.06 C616.98,493.78 618.98,493.50 620.98,493.22 C622.99,492.95 624.99,492.68 626.99,492.41 C628.99,492.14 631.00,491.88 633.00,491.62" stroke="#ea0000" stroke-width="3" fill="none" stroke-linejoin="round"/>
<rect x="156.3" y="798.2" width="16" height="16" fill="#000"/>
<rect x="187.6" y="738.4" width="16" height="16" fill="#000"/>
<rect x="218.8" y="661.1" width="16" height="16" fill="#000"/>
<rect x="250.1" y="608.8" width="16" height="16" fill="#000"/>
<rect x="281.4" y="542.7" width="16" height="16" fill="#000"/>
<rect x="312.6" y="507.2" width="16" height="16" fill="#000"/>
<rect x="469" y="484" width="16" height="16" fill="#000"/>
<rect x="625.3" y="483.8" width="16" height="16" fill="#000"/>
<circle cx="164.3" cy="851" r="9.1" fill="#0000f0"/>
<circle cx="195.6" cy="767" r="9.1" fill="#0000f0"/>
<circle cx="226.8" cy="698.9" r="9.1" fill="#0000f0"/>
<circle cx="258.1" cy="627.2" r="9.1" fill="#0000f0"/>
<circle cx="289.4" cy="573" r="9.1" fill="#0000f0"/>
<circle cx="320.6" cy="550.5" r="9.1" fill="#0000f0"/>
<circle cx="477" cy="510" r="9.1" fill="#0000f0"/>
<circle cx="633.3" cy="491.8" r="9.1" fill="#0000f0"/>
<path d="M157,863.1 L176.9,873.3 L157,883.5 Z" fill="#f00000"/>
<path d="M188.3,786 L208.2,796.2 L188.3,806.4 Z" fill="#f00000"/>
<path d="M219.5,719.6 L239.4,729.8 L219.5,740 Z" fill="#f00000"/>
<path d="M250.8,661.8 L270.7,672 L250.8,682.2 Z" fill="#f00000"/>
<path d="M282.1,599.1 L302,609.3 L282.1,619.5 Z" fill="#f00000"/>
<path d="M313.3,548.3 L333.2,558.5 L313.3,568.7 Z" fill="#f00000"/>
<path d="M469.7,505.8 L489.6,516 L469.7,526.2 Z" fill="#f00000"/>
<path d="M626,481.6 L645.9,491.8 L626,502 Z" fill="#f00000"/>
<path d="M164.3,811.5 V890.5 M155.8,811.5 H172.8 M155.8,890.5 H172.8" stroke="#2a2ab8" stroke-width="1.5" fill="none"/>
<path d="M195.6,730.6 V803.4 M187.1,730.6 H204.1 M187.1,803.4 H204.1" stroke="#2a2ab8" stroke-width="1.5" fill="none"/>
<path d="M226.8,664.9 V732.9 M218.3,664.9 H235.3 M218.3,732.9 H235.3" stroke="#2a2ab8" stroke-width="1.5" fill="none"/>
<path d="M258.1,592.7 V661.7 M249.6,592.7 H266.6 M249.6,661.7 H266.6" stroke="#2a2ab8" stroke-width="1.5" fill="none"/>
<path d="M289.4,538.7 V607.3 M280.9,538.7 H297.9 M280.9,607.3 H297.9" stroke="#2a2ab8" stroke-width="1.5" fill="none"/>
<path d="M320.6,516 V585 M312.1,516 H329.1 M312.1,585 H329.1" stroke="#2a2ab8" stroke-width="1.5" fill="none"/>
<path d="M477,477.2 V542.8 M468.5,477.2 H485.5 M468.5,542.8 H485.5" stroke="#2a2ab8" stroke-width="1.5" fill="none"/>
<path d="M633.3,459.1 V524.5 M624.8,459.1 H641.8 M624.8,524.5 H641.8" stroke="#2a2ab8" stroke-width="1.5" fill="none"/>
<path d="M164.3,782.6 V829.8 M155.8,782.6 H172.8 M155.8,829.8 H172.8" stroke="#262626" stroke-width="1.5" fill="none"/>
<path d="M195.6,716.4 V776.4 M187.1,716.4 H204.1 M187.1,776.4 H204.1" stroke="#262626" stroke-width="1.5" fill="none"/>
<path d="M226.8,641.4 V696.8 M218.3,641.4 H235.3 M218.3,696.8 H235.3" stroke="#262626" stroke-width="1.5" fill="none"/>
<path d="M258.1,593.4 V640.2 M249.6,593.4 H266.6 M249.6,640.2 H266.6" stroke="#262626" stroke-width="1.5" fill="none"/>
<path d="M289.4,525.6 V575.8 M280.9,525.6 H297.9 M280.9,575.8 H297.9" stroke="#262626" stroke-width="1.5" fill="none"/>
<path d="M320.6,489.4 V541 M312.1,489.4 H329.1 M312.1,541 H329.1" stroke="#262626" stroke-width="1.5" fill="none"/>
<path d="M477,465.6 V518.4 M468.5,465.6 H485.5 M468.5,518.4 H485.5" stroke="#262626" stroke-width="1.5" fill="none"/>
<path d="M633.3,466 V517.6 M624.8,466 H641.8 M624.8,517.6 H641.8" stroke="#262626" stroke-width="1.5" fill="none"/>
<path d="M164.3,849.6 V897 M155.8,849.6 H172.8 M155.8,897 H172.8" stroke="#c83838" stroke-width="1.5" fill="none"/>
<path d="M195.6,765.9 V826.5 M187.1,765.9 H204.1 M187.1,826.5 H204.1" stroke="#c83838" stroke-width="1.5" fill="none"/>
<path d="M226.8,701.8 V757.8 M218.3,701.8 H235.3 M218.3,757.8 H235.3" stroke="#c83838" stroke-width="1.5" fill="none"/>
<path d="M258.1,648.8 V695.2 M249.6,648.8 H266.6 M249.6,695.2 H266.6" stroke="#c83838" stroke-width="1.5" fill="none"/>
<path d="M289.4,583.5 V635.1 M280.9,583.5 H297.9 M280.9,635.1 H297.9" stroke="#c83838" stroke-width="1.5" fill="none"/>
<path d="M320.6,532.9 V584.1 M312.1,532.9 H329.1 M312.1,584.1 H329.1" stroke="#c83838" stroke-width="1.5" fill="none"/>
<path d="M477,489.2 V542.8 M468.5,489.2 H485.5 M468.5,542.8 H485.5" stroke="#c83838" stroke-width="1.5" fill="none"/>

<path d="M125.3,17.0 H672.0 V437.8 M125.3,17.0 V929.0 H673.2 V437.8 H125.3" stroke="#000" stroke-width="2.1" fill="none" stroke-linecap="square"/>
<path d="M125.3,332.6 h17.5 M125.3,227.4 h17.5 M125.3,122.3 h17.5 M125.3,385.1 h9 M125.3,280 h9 M125.3,174.9 h9 M125.3,69.8 h9 M125.3,710.7 h17.5 M125.3,492 h17.5 M125.3,820 h9 M125.3,601.3 h9 M164.3,929.0 v-17 M242.5,929.0 v-17 M320.6,929.0 v-17 M398.8,929.0 v-17 M477,929.0 v-17 M555.2,929.0 v-17 M633.3,929.0 v-17 M203.4,929.0 v-9 M281.6,929.0 v-9 M359.7,929.0 v-9 M437.9,929.0 v-9 M516.1,929.0 v-9 M594.3,929.0 v-9" stroke="#000" stroke-width="2" fill="none"/>
<text transform="translate(107.3,26.7) scale(1,1.045)" text-anchor="end">100</text><text transform="translate(107.3,131.8) scale(1,1.045)" text-anchor="end">80</text><text transform="translate(107.3,236.9) scale(1,1.045)" text-anchor="end">60</text><text transform="translate(107.3,342.1) scale(1,1.045)" text-anchor="end">40</text><text transform="translate(107.3,447.2) scale(1,1.045)" text-anchor="end">20</text><text transform="translate(107.3,501.5) scale(1,1.045)" text-anchor="end">1.0</text><text transform="translate(107.3,720.2) scale(1,1.045)" text-anchor="end">0.8</text><text transform="translate(107.3,938.9) scale(1,1.045)" text-anchor="end">0.6</text><text transform="translate(164.3,974.6) scale(1,1.045)" text-anchor="middle">0.0</text><text transform="translate(242.5,974.6) scale(1,1.045)" text-anchor="middle">0.5</text><text transform="translate(320.6,974.6) scale(1,1.045)" text-anchor="middle">1.0</text><text transform="translate(398.8,974.6) scale(1,1.045)" text-anchor="middle">1.5</text><text transform="translate(477,974.6) scale(1,1.045)" text-anchor="middle">2.0</text><text transform="translate(555.2,974.6) scale(1,1.045)" text-anchor="middle">2.5</text><text transform="translate(633.3,974.6) scale(1,1.045)" text-anchor="middle">3.0</text><text transform="translate(28.4,221) rotate(-90) scale(1,1.05)" text-anchor="middle" style="font-size:34.2px">Reversal Field (Oe)</text><text transform="translate(29.3,670.5) rotate(-90) scale(1,1.05)" text-anchor="middle" style="font-size:34.2px">Normalized Reversal Field</text><text x="370.3" y="1035" text-anchor="middle" style="font-size:38.3px" xml:space="preserve">Pt Thickness  (nm)</text><text x="141.1" y="80" style="font-size:43.2px">(a)</text><text x="149.3" y="502.4" style="font-size:43.2px">(b)</text>
</svg>
</body></html>
